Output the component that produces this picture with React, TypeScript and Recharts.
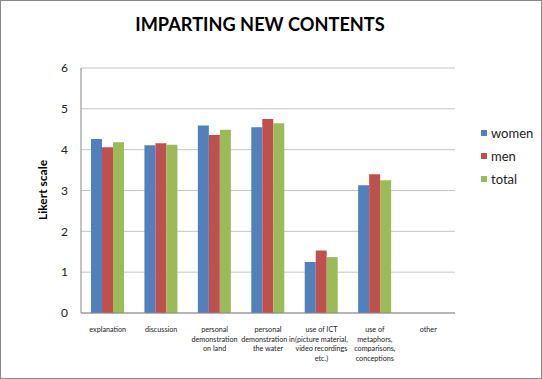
import React from "react";
import { BarChart, Bar, XAxis, YAxis, CartesianGrid } from "recharts";

const categories = [
  "explanation",
  "discussion",
  "personal\ndemonstration\non land",
  "personal\ndemonstration in\nthe water",
  "use of ICT\n(picture material,\nvideo recordings\netc.)",
  "use of\nmetaphors,\ncomparisons,\nconceptions",
  "other",
];
const women = [4.26, 4.11, 4.59, 4.55, 1.25, 3.13, 0];
const men = [4.06, 4.16, 4.36, 4.75, 1.53, 3.4, 0];
const total = [4.18, 4.12, 4.49, 4.65, 1.37, 3.25, 0];
const yTicks = [0, 1, 2, 3, 4, 5, 6];

const seriesNames = ["women", "men", "total"];
const colors = ["#4F81BD", "#C0504D", "#9BBB59"];

const data = categories.map((c, i) => ({
  name: c,
  women: women[i],
  men: men[i],
  total: total[i],
}));

const FONT = "Lato, 'Open Sans', sans-serif";

const XTick = (props: any) => {
  const { x, y, payload } = props;
  const lines = String(payload.value).split("\n");
  return (
    <text x={x} y={y + 11} textAnchor="middle" fontSize={7.2} fill="#222" fontFamily={FONT}>
      {lines.map((l, i) => (
        <tspan key={i} x={x} dy={i === 0 ? 0 : 9.5}>
          {l}
        </tspan>
      ))}
    </text>
  );
};

export default function App() {
  return (
    <div style={{ position: "absolute", left: 0, top: 0, width: 542, height: 379, background: "#fff", fontFamily: FONT }}>
      <BarChart
        width={542}
        height={379}
        data={data}
        margin={{ top: 68, right: 87, bottom: 16, left: 0 }}
        barGap={0}
      >
        <CartesianGrid horizontal vertical={false} stroke="#c4c4c4" />
        <XAxis
          dataKey="name"
          height={50}
          interval={0}
          tick={<XTick />}
          tickLine={false}
          axisLine={{ stroke: "#888" }}
        />
        <YAxis
          width={81}
          domain={[0, 6]}
          ticks={yTicks}
          interval={0}
          tickLine={false}
          tickSize={6}
          tickMargin={7}
          axisLine={{ stroke: "#888" }}
          tick={{ fontSize: 12, fill: "#222", fontFamily: FONT }}
        />
        {seriesNames.map((s, i) => (
          <Bar key={s} dataKey={s} fill={colors[i]} barSize={11} isAnimationActive={false} />
        ))}
      </BarChart>
      <div
        style={{
          position: "absolute",
          left: 160,
          top: 13,
          width: 200,
          textAlign: "center",
          fontSize: 18.2,
          fontWeight: 700,
          color: "#000",
          whiteSpace: "nowrap",
          display: "flex",
          justifyContent: "center",
        }}
      >
        IMPARTING NEW CONTENTS
      </div>
      <div
        style={{
          position: "absolute",
          left: 42,
          top: 190,
          transform: "translate(-50%, -50%) rotate(-90deg)",
          fontSize: 12,
          fontWeight: 700,
          whiteSpace: "nowrap",
          color: "#000",
        }}
      >
        Likert scale
      </div>
      <div style={{ position: "absolute", left: 481, top: 121 }}>
        {seriesNames.map((s, i) => (
          <div key={s} style={{ display: "flex", alignItems: "center", height: 23, fontSize: 13, color: "#222" }}>
            <span style={{ display: "inline-block", width: 6, height: 6, background: colors[i], marginRight: 4 }} />
            {s}
          </div>
        ))}
      </div>
      <div
        style={{
          position: "absolute",
          left: 0,
          top: 0,
          width: 542,
          height: 379,
          boxSizing: "border-box",
          border: "1px solid #8a8a8a",
          pointerEvents: "none",
        }}
      />
    </div>
  );
}
